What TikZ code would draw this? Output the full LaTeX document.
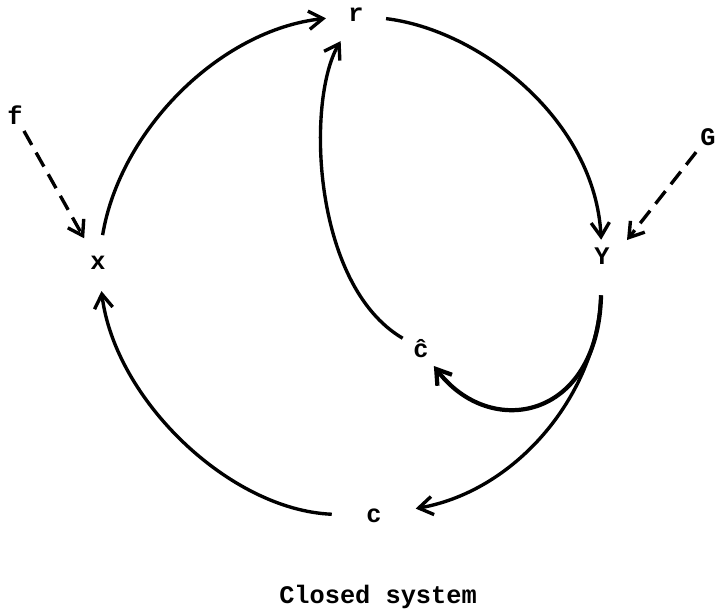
\documentclass[tikz,border=0pt]{standalone}
\usepackage{fontspec}
\setmonofont{Liberation Mono}
\usetikzlibrary{arrows.meta}
\tikzset{
  lbl/.style={circle, inner sep=0pt, font=\ttfamily\bfseries\fontsize{18}{20}\selectfont},
  arc/.style={-{Straight Barb[length=10pt, width=13pt]}, line width=2.4pt},
  ext/.style={arc, dash pattern=on 0.4cm off 0.22cm}
}
\begin{document}
\begin{tikzpicture}[x=0.025cm, y=-0.025cm]
  \useasboundingbox (0,0) rectangle (720,613);
  \node[lbl, minimum size=1.5cm] (r) at (356,15) {r};
  \node[lbl, minimum size=1.4cm] (x) at (98,263) {x};
  \node[lbl, minimum size=0.8cm] (Y) at (602,256) {Y};
  \node[lbl, minimum size=1.05cm] (ch) at (421,349) {ĉ};
  \node[lbl, minimum size=2.1cm] (c) at (374,516) {c};
  \node[lbl, minimum size=0.9cm] (f) at (15,115) {f};
  \node[lbl, minimum size=0.95cm] (G) at (708,137) {G};
  \node[lbl, anchor=base] (title) at (378,603) {Closed system};
  \draw[arc] (x) .. controls (120,130) and (220,30) .. (r);
  \draw[arc] (r) .. controls (480,30) and (595,120) .. (Y);
  \draw[arc] (ch) .. controls (312,285) and (306,100) .. (r);
  \draw[arc, line width=3pt, shorten <=0.575cm] (Y) .. controls (598,420) and (490,440) .. (ch);
  \draw[arc, shorten <=0.575cm] (Y) .. controls (598,390) and (520,490) .. (c);
  \draw[arc] (c) .. controls (230,510) and (115,400) .. (x);
  \draw[ext] (f) -- (x);
  \draw[ext] (G) -- ([shift={(25,-16)}]Y.center);
\end{tikzpicture}
\end{document}
